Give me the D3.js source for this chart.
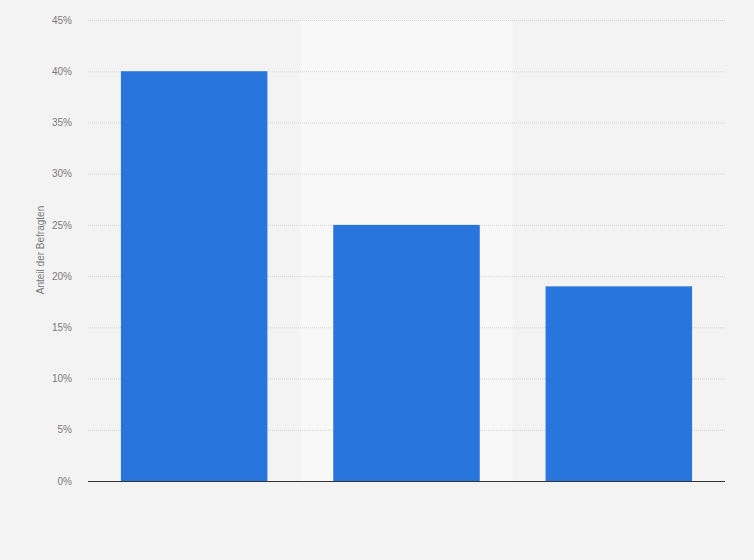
<!DOCTYPE html>
<html><head><meta charset="utf-8">
<script src="https://cdn.jsdelivr.net/npm/d3@7"></script>
<style>
html,body{margin:0;padding:0;background:#f3f3f3;}
svg{display:block;font-family:"Liberation Sans",Arial,sans-serif;}
</style></head>
<body><svg id="c" width="754" height="560"></svg>
<script>
const categories = ["A","B","C"];
const values = [40, 25, 19];
const yTicks = [0,5,10,15,20,25,30,35,40,45];

const W=754,H=560, m={left:88,right:29,top:20,bottom:79};
const svg=d3.select("#c");
svg.append("rect").attr("width",W).attr("height",H).attr("fill","#f3f3f3");
const x=d3.scaleBand().domain(categories).range([m.left,W-m.right]).paddingInner(0.31).paddingOuter(0.155);
const xb=d3.scaleBand().domain(categories).range([m.left,W-m.right]);
const y=d3.scaleLinear().domain([0,45]).range([H-m.bottom,m.top]);

// alternating band
svg.selectAll("rect.band").data(categories.filter((d,i)=>i%2===1)).enter().append("rect")
 .attr("x",d=>xb(d)).attr("width",xb.bandwidth()).attr("y",m.top).attr("height",y(0)-m.top).attr("fill","#f8f8f8");

// grid
const ya=d3.axisLeft(y).tickValues(yTicks).tickFormat(d=>d+"%").tickSize(0).tickPadding(16);
const g=svg.append("g").attr("transform",`translate(${m.left},0)`).call(ya);
g.select(".domain").remove();
g.selectAll("text").attr("fill","#7a7a7a").attr("font-size","10px");
svg.append("g").selectAll("line").data(yTicks.filter(d=>d>0)).enter().append("line")
 .attr("x1",m.left).attr("x2",W-m.right).attr("y1",d=>y(d)+0.5).attr("y2",d=>y(d)+0.5)
 .attr("stroke","#d6d6d6").attr("stroke-dasharray","1,1");

svg.selectAll("rect.bar").data(values).enter().append("rect")
 .attr("x",(d,i)=>x(categories[i])).attr("width",x.bandwidth())
 .attr("y",d=>y(d)).attr("height",d=>y(0)-y(d)).attr("fill","#2876dd");

svg.append("line").attr("x1",m.left).attr("x2",W-m.right).attr("y1",y(0)+0.5).attr("y2",y(0)+0.5)
 .attr("stroke","#333").attr("stroke-width",1);

svg.append("text").attr("transform",`translate(44,250) rotate(-90)`)
 .attr("text-anchor","middle").attr("fill","#7a7a7a").attr("font-size","10px").text("Anteil der Befragten");
</script></body></html>
